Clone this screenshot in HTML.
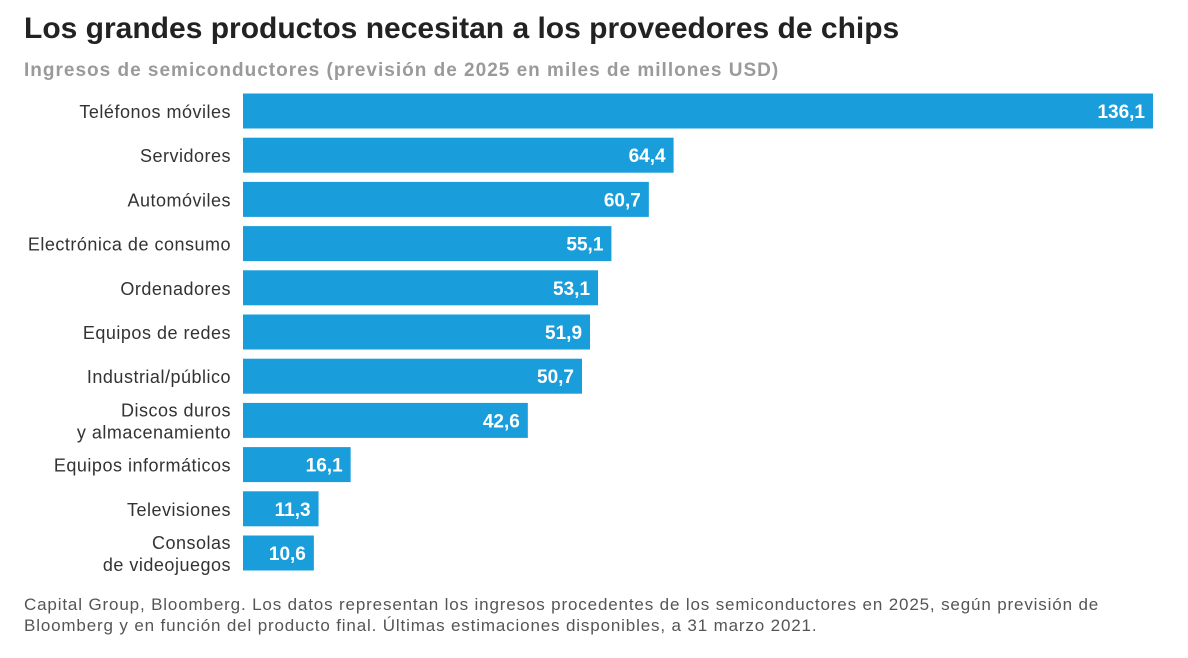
<!DOCTYPE html>
<html><head><meta charset="utf-8">
<style>
body{margin:0;width:1188px;height:658px;background:#fff;font-family:"Liberation Sans",sans-serif;overflow:hidden;position:relative}
.t{position:absolute;left:24px;top:12px;font-size:30px;font-weight:bold;color:#222;letter-spacing:0px}
.s{position:absolute;left:24px;top:60px;font-size:19px;font-weight:bold;color:#9a9a9a;letter-spacing:1px}
.f{position:absolute;left:24px;top:594px;font-size:17px;color:#555;line-height:21px;letter-spacing:0.85px;white-space:nowrap}
</style></head><body>
<div class="t">Los grandes productos necesitan a los proveedores de chips</div>
<div class="s">Ingresos de semiconductores (previsión de 2025 en miles de millones USD)</div>
<svg id="c" width="1188" height="658" style="position:absolute;left:0;top:0"></svg>
<div class="f">Capital Group, Bloomberg. Los datos representan los ingresos procedentes de los semiconductores en 2025, según previsión de<br>Bloomberg y en función del producto final. Últimas estimaciones disponibles, a 31 marzo 2021.</div>
<script>
const categories=[["Teléfonos móviles"],["Servidores"],["Automóviles"],["Electrónica de consumo"],["Ordenadores"],["Equipos de redes"],["Industrial/público"],["Discos duros","y almacenamiento"],["Equipos informáticos"],["Televisiones"],["Consolas","de videojuegos"]];
const values=[136.1,64.4,60.7,55.1,53.1,51.9,50.7,42.6,16.1,11.3,10.6];
const labels=["136,1","64,4","60,7","55,1","53,1","51,9","50,7","42,6","16,1","11,3","10,6"];
const svg=document.getElementById('c');const NS="http://www.w3.org/2000/svg";
const x0=243,scale=910/136.1;
const x=v=>x0+v*scale;
const y=i=>111+i*44.2;
values.forEach((v,i)=>{
 const r=document.createElementNS(NS,'rect');
 r.setAttribute('x',x0);r.setAttribute('y',y(i)-17.5);r.setAttribute('width',x(v)-x0);r.setAttribute('height',35);r.setAttribute('fill','#1a9edb');
 
 
 svg.appendChild(r);
 const t=document.createElementNS(NS,'text');
 t.setAttribute('x',x(v)-8);t.setAttribute('y',y(i)+7);t.setAttribute('text-anchor','end');t.setAttribute('font-size','19');t.setAttribute('font-weight','bold');t.setAttribute('fill','#fff');t.textContent=labels[i];
 
 
 svg.appendChild(t);
 const lines=categories[i];
 lines.forEach((ln,k)=>{
  const c=document.createElementNS(NS,'text');
  const yy=lines.length==1?y(i)+7:y(i)-4+k*22;
  c.setAttribute('x',231);c.setAttribute('y',yy);c.setAttribute('text-anchor','end');c.setAttribute('font-size','18');c.setAttribute('letter-spacing','0.5');c.setAttribute('fill','#333');c.textContent=ln;
  
  
  svg.appendChild(c);
 });
});
</script>
</body></html>
